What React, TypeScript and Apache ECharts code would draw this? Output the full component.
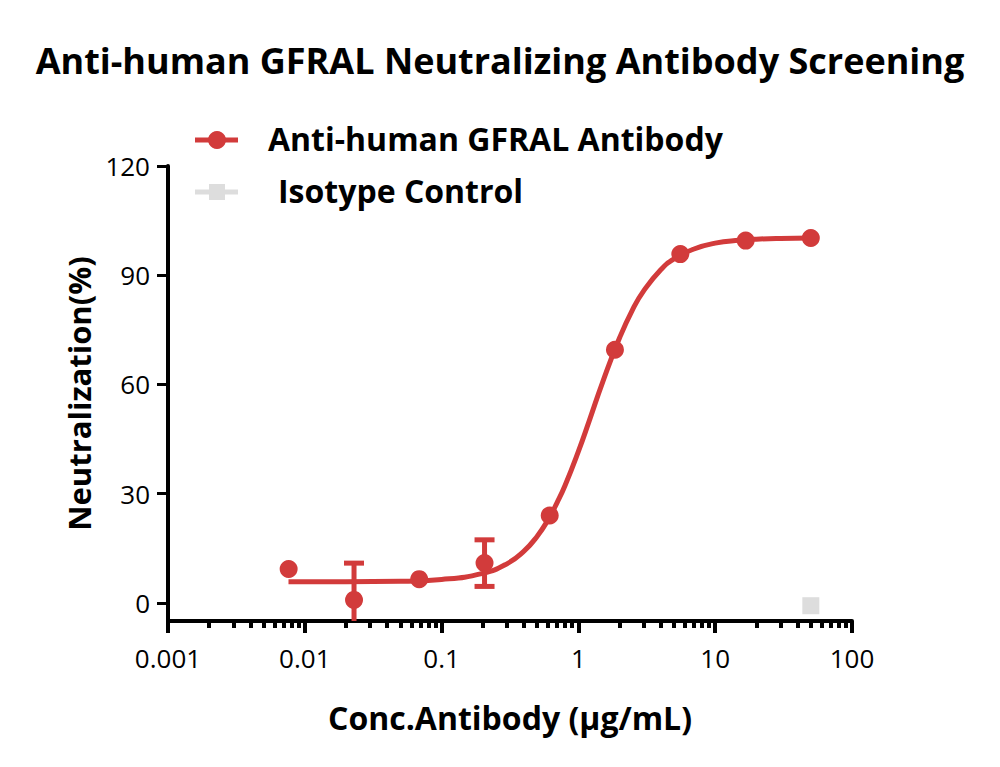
import React, { useEffect, useRef } from "react";
import * as echarts from "echarts";

// Measured points (3-fold dilution series, µg/mL)
const concentrations = [0.00762, 0.0229, 0.0686, 0.206, 0.617, 1.85, 5.56, 16.7, 50];
const neutralization = [9.3, 0.8, 6.5, 10.9, 24.0, 69.5, 95.8, 99.5, 100.2];
const errorSD = [0, 10.1, 0, 6.4, 0, 0, 0, 0, 0];

// Fitted dose-response curve
const fitX = [0.0076, 0.02, 0.05, 0.1, 0.2, 0.3, 0.4, 0.5, 0.6, 0.7, 0.8, 1.0, 1.2, 1.5, 2.0, 2.5, 3.0, 4.0, 5.0, 7.0, 10, 15, 20, 30, 50];
const fitY = [5.8, 5.8, 5.9, 6.4, 8.1, 10.7, 14.2, 18.3, 22.8, 27.6, 32.3, 41.6, 50.0, 60.5, 72.8, 80.7, 85.7, 91.5, 94.5, 97.2, 98.8, 99.6, 99.9, 100.1, 100.2];

// Isotype control
const isotypeX = [50];
const isotypeY = [-0.8];

// Axis ticks
const yTicks = [0, 30, 60, 90, 120];
const xTicks = [0.001, 0.01, 0.1, 1, 10, 100];
const xTickLabels = ["0.001", "0.01", "0.1", "1", "10", "100"];
const decades = [0.001, 0.01, 0.1, 1, 10];
const minorSteps = [2, 3, 4, 5, 6, 7, 8, 9];

const RED = "#d23b3b";
const GREY = "#dddddd";
const FONT = "'Open Sans', 'Noto Sans', sans-serif";

export default function App() {
  const ref = useRef<HTMLDivElement>(null);

  useEffect(() => {
    if (!ref.current) return;
    const chart = echarts.init(ref.current, null, { renderer: "svg" });

    const minorTicks: number[] = [];
    decades.forEach((d) => minorSteps.forEach((s) => minorTicks.push(+(d * s).toPrecision(3))));

    const points = concentrations.map((c, i) => [c, neutralization[i]]);
    const errors = concentrations
      .map((c, i) => [c, neutralization[i] - errorSD[i], neutralization[i] + errorSD[i], errorSD[i]])
      .filter((e) => e[3] > 0);
    const fit = fitX.map((x, i) => [x, fitY[i]]);
    const iso = isotypeX.map((x, i) => [x, isotypeY[i]]);

    const labelText = (v: number) => {
      const idx = xTicks.findIndex((t) => Math.abs(Math.log10(t) - Math.log10(v)) < 1e-6);
      return idx >= 0 ? xTickLabels[idx] : "";
    };

    chart.setOption({
      animation: false,
      backgroundColor: "#ffffff",
      title: {
        text: "Anti-human GFRAL Neutralizing Antibody Screening",
        left: "center",
        top: 37,
        textStyle: { fontFamily: FONT, fontSize: 36, fontWeight: "bold", color: "#000" },
      },
      grid: { left: 168, right: 148, top: 166, bottom: 146, containLabel: false },
      xAxis: [
        {
          type: "log",
          logBase: 10,
          min: 0.001,
          max: 100,
          position: "bottom",
          name: "Conc.Antibody (µg/mL)",
          nameLocation: "middle",
          nameGap: 80,
          nameTextStyle: { fontFamily: FONT, fontSize: 32, fontWeight: "bold", color: "#000" },
          axisLine: { show: true, onZero: false, lineStyle: { color: "#000", width: 4 } },
          axisTick: { show: true, length: 12, lineStyle: { color: "#000", width: 4 } },
          axisLabel: {
            show: true,
            margin: 24,
            fontFamily: FONT,
            fontSize: 26,
            color: "#000",
            formatter: (v: number) => labelText(v),
          },
          splitLine: { show: false },
          minorTick: { show: false },
        },
        {
          type: "log",
          logBase: 10,
          min: 0.001,
          max: 100,
          position: "bottom",
          offset: 0,
          axisLine: { show: false, onZero: false },
          axisTick: { show: true, length: 7, customValues: minorTicks, lineStyle: { color: "#000", width: 4 } },
          axisLabel: { show: false },
          splitLine: { show: false },
        },
      ],
      yAxis: {
        type: "value",
        min: -5,
        max: 120,
        name: "Neutralization(%)",
        nameLocation: "middle",
        nameRotate: 90,
        nameGap: 68,
        nameTextStyle: { fontFamily: FONT, fontSize: 31, fontWeight: "bold", color: "#000" },
        axisLine: { show: true, onZero: false, lineStyle: { color: "#000", width: 4 } },
        axisTick: { show: true, length: 11, customValues: yTicks, lineStyle: { color: "#000", width: 3 } },
        axisLabel: { show: true, customValues: yTicks, margin: 18, fontFamily: FONT, fontSize: 26, color: "#000" },
        splitLine: { show: false },
      },
      graphic: [
        { type: "line", shape: { x1: 195, y1: 140, x2: 238, y2: 140 }, style: { stroke: RED, lineWidth: 5 } },
        { type: "circle", shape: { cx: 217, cy: 140, r: 9 }, style: { fill: RED } },
        {
          type: "text",
          left: 268,
          top: 122,
          style: { text: "Anti-human GFRAL Antibody", fontFamily: FONT, fontSize: 32, fontWeight: "bold", fill: "#000" },
        },
        { type: "line", shape: { x1: 195, y1: 192, x2: 238, y2: 192 }, style: { stroke: GREY, lineWidth: 5 } },
        { type: "rect", shape: { x: 209, y: 184, width: 16, height: 16 }, style: { fill: GREY } },
        {
          type: "text",
          left: 278,
          top: 174,
          style: { text: "Isotype Control", fontFamily: FONT, fontSize: 32, fontWeight: "bold", fill: "#000" },
        },
      ],
      series: [
        {
          name: "Fit",
          type: "line",
          data: fit,
          smooth: true,
          showSymbol: false,
          lineStyle: { color: RED, width: 5 },
          z: 2,
        },
        {
          name: "Error",
          type: "custom",
          data: errors,
          clip: true,
          z: 3,
          renderItem: (params: any, api: any) => {
            const x = api.value(0);
            const lo = api.coord([x, api.value(1)]);
            const hi = api.coord([x, api.value(2)]);
            const half = 10;
            const style = { stroke: RED, lineWidth: 5 };
            return {
              type: "group",
              children: [
                { type: "line", shape: { x1: lo[0], y1: lo[1], x2: hi[0], y2: hi[1] }, style },
                { type: "line", shape: { x1: hi[0] - half, y1: hi[1], x2: hi[0] + half, y2: hi[1] }, style },
                { type: "line", shape: { x1: lo[0] - half, y1: lo[1], x2: lo[0] + half, y2: lo[1] }, style },
              ],
            };
          },
        },
        {
          name: "Anti-human GFRAL Antibody",
          type: "scatter",
          data: points,
          symbol: "circle",
          symbolSize: 18,
          itemStyle: { color: RED, opacity: 1 },
          z: 4,
        },
        {
          name: "Isotype Control",
          type: "scatter",
          data: iso,
          symbol: "rect",
          symbolSize: 17,
          itemStyle: { color: GREY, opacity: 1 },
          z: 4,
        },
      ],
    });

    return () => chart.dispose();
  }, []);

  return <div ref={ref} style={{ width: 1000, height: 767, position: "absolute", left: 0, top: 0 }} />;
}
